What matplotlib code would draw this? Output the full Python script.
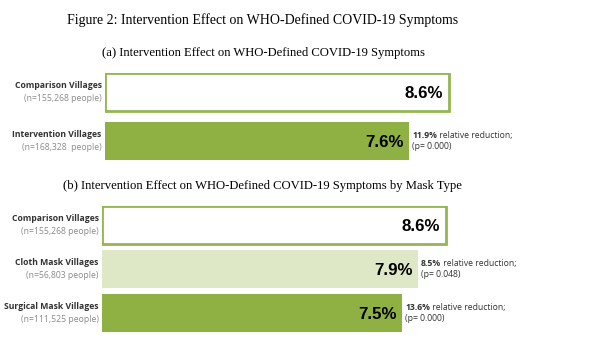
import matplotlib
matplotlib.use("Agg")
import matplotlib.pyplot as plt

# ---- data ----
title = "Figure 2: Intervention Effect on WHO-Defined COVID-19 Symptoms"
sub_a = "(a) Intervention Effect on WHO-Defined COVID-19 Symptoms"
sub_b = "(b) Intervention Effect on WHO-Defined COVID-19 Symptoms by Mask Type"

a_groups = ["Comparison Villages", "Intervention Villages"]
a_n = ["(n=155,268 people)", "(n=168,328  people)"]
a_vals = [8.6, 7.6]
a_red = [None, "11.9%"]
a_p = [None, "(p= 0.000)"]

b_groups = ["Comparison Villages", "Cloth Mask Villages", "Surgical Mask Villages"]
b_n = ["(n=155,268 people)", "(n=56,803 people)", "(n=111,525 people)"]
b_vals = [8.6, 7.9, 7.5]
b_red = [None, "8.5%", "13.6%"]
b_p = [None, "(p= 0.048)", "(p= 0.000)"]

# ---- style ----
W, H = 603, 350
GREEN = "#8fb043"
LIGHT = "#dfe8c6"
BORDER = "#94b653"
DARK = "#333333"
GRAY = "#8a8a8a"
SERIF = "Liberation Serif"
SANS = "Open Sans"
PCT = "Liberation Sans"

fig = plt.figure(figsize=(W / 100, H / 100), dpi=100)
fig.patch.set_facecolor("white")

fig.text(263 / W, 1 - 20 / H, title, ha="center", va="center", family=SERIF, fontsize=10, color="black")
fig.text(263 / W, 1 - 53 / H, sub_a, ha="center", va="center", family=SERIF, fontsize=9.05, color="black")
fig.text(262 / W, 1 - 186 / H, sub_b, ha="center", va="center", family=SERIF, fontsize=9.05, color="black")


def panel(left, top, bottom, groups, ns, vals, reds, ps, colors, pad):
    ax = fig.add_axes([left / W, 1 - bottom / H, 400 / W, (bottom - top) / H])
    ax.set_xlim(0, 10)
    n = len(vals)
    ax.set_ylim(n - 1 + pad, -pad)
    ax.axis("off")
    for i, (g, nn, v, r, p, c) in enumerate(zip(groups, ns, vals, reds, ps, colors)):
        if c == "outline":
            ax.barh(i, v, height=2 * pad - 0.02, color="white", edgecolor=BORDER, linewidth=2.0)
        else:
            ax.barh(i, v, height=2 * pad, color=c, edgecolor="none")
        # category labels
        ax.annotate(g, xy=(0, i), xytext=(-2.5, 4.4), textcoords="offset points",
                    ha="right", va="center", family=SANS, fontsize=6.2, fontweight="bold", color=DARK)
        ax.annotate(nn, xy=(0, i), xytext=(-2.5, -4.9), textcoords="offset points",
                    ha="right", va="center", family=SANS, fontsize=6.2, color=GRAY)
        # value label
        ax.annotate(f"{v:.1f}%", xy=(v, i), xytext=(-4.3 if c == "outline" else -3.6, -0.8),
                    textcoords="offset points", ha="right", va="center",
                    family=PCT, fontsize=12.2, fontweight="bold", color="black")
        if r is not None:
            t1 = ax.annotate(r, xy=(v, i), xytext=(2.3, 4.2), textcoords="offset points",
                             ha="left", va="center", family=SANS, fontsize=6.2,
                             fontweight="bold", color=DARK)
            ax.annotate(" relative reduction;", xy=(1, 0), xycoords=t1, ha="left", va="bottom",
                        family=SANS, fontsize=6.2, color=DARK)
            ax.annotate(p, xy=(v, i), xytext=(2.3, -3.8), textcoords="offset points",
                        ha="left", va="center", family=SANS, fontsize=6.2, color=DARK)
    return ax


panel(105, 73, 160, a_groups, a_n, a_vals, a_red, a_p, ["outline", GREEN], pad=19 / 49)
panel(102, 206, 332, b_groups, b_n, b_vals, b_red, b_p, ["outline", LIGHT, GREEN], pad=19 / 44)

fig.savefig("out.png", dpi=100, facecolor="white")
